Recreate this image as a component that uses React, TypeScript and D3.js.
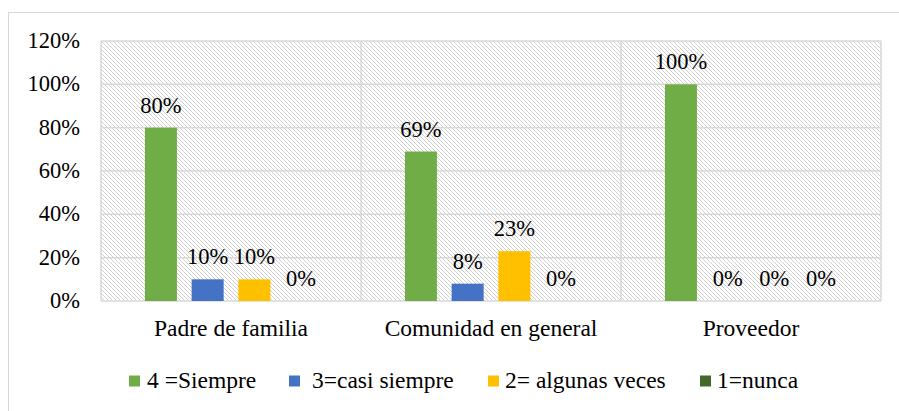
import { useEffect, useRef } from "react";
import * as d3 from "d3";

const categories = ["Padre de familia", "Comunidad en general", "Proveedor"];
const seriesNames = ["4 =Siempre", "3=casi siempre", "2= algunas veces", "1=nunca"];
const seriesColors = ["#70ad47", "#4472c4", "#ffc000", "#43682b"];
const siempre = [80, 69, 100];
const casiSiempre = [10, 8, 0];
const algunasVeces = [10, 23, 0];
const nunca = [0, 0, 0];
const yTicks = [0, 20, 40, 60, 80, 100, 120];

const FONT = "'Liberation Serif', 'Times New Roman', serif";

export default function App() {
  const svgRef = useRef<SVGSVGElement>(null);

  useEffect(() => {
    if (!svgRef.current) return;
    const root = d3.select(svgRef.current);
    root.selectAll("*").remove();

    const W = 899;
    const H = 411;
    root.attr("width", W).attr("height", H);

    const values = [siempre, casiSiempre, algunasVeces, nunca];

    // outer chart border
    root
      .append("rect")
      .attr("x", 8.5)
      .attr("y", 12.5)
      .attr("width", 960)
      .attr("height", 500)
      .attr("fill", "#fff")
      .attr("stroke", "#d9d9d9");

    const left = 101;
    const right = 881;
    const top = 41;
    const bottom = 301;

    // hatch pattern
    const defs = root.append("defs");
    const pat = defs
      .append("pattern")
      .attr("id", "hatch")
      .attr("patternUnits", "userSpaceOnUse")
      .attr("width", 4)
      .attr("height", 4);
    pat.append("rect").attr("width", 4).attr("height", 4).attr("fill", "#fff");
    pat
      .append("path")
      .attr("d", "M-1,-1 L5,5 M-1,3 L1,5 M3,-1 L5,1")
      .attr("stroke", "#d0d0d0")
      .attr("stroke-width", 1);

    const x0 = d3.scaleBand().domain(categories).range([left, right]).padding(0);
    const x1 = d3
      .scaleBand()
      .domain(seriesNames)
      .range([0, x0.bandwidth()])
      .paddingInner(0.315)
      .paddingOuter(0.94);
    const y = d3.scaleLinear().domain([0, 120]).range([bottom, top]);

    root
      .append("rect")
      .attr("x", left)
      .attr("y", top)
      .attr("width", right - left)
      .attr("height", bottom - top)
      .attr("fill", "url(#hatch)");

    // gridlines
    root
      .append("g")
      .selectAll("line")
      .data(yTicks)
      .join("line")
      .attr("x1", left)
      .attr("x2", right)
      .attr("y1", (d) => y(d))
      .attr("y2", (d) => y(d))
      .attr("stroke", "#d9d9d9")
      .attr("stroke-width", 1.5);

    // vertical category separators
    const seps = [left, ...categories.map((c) => (x0(c) as number) + x0.bandwidth())];
    root
      .append("g")
      .selectAll("line")
      .data(seps)
      .join("line")
      .attr("x1", (d) => d)
      .attr("x2", (d) => d)
      .attr("y1", top)
      .attr("y2", bottom)
      .attr("stroke", "#d9d9d9")
      .attr("stroke-width", 1.5);

    // y tick labels
    root
      .append("g")
      .selectAll("text")
      .data(yTicks)
      .join("text")
      .attr("x", 80)
      .attr("y", (d) => y(d) + 7)
      .attr("text-anchor", "end")
      .style("font-family", FONT)
      .style("font-size", "22.5px")
      .attr("fill", "#000")
      .text((d) => `${d}%`);

    // bars + labels
    seriesNames.forEach((s, si) => {
      const g = root.append("g");
      categories.forEach((c, ci) => {
        const v = values[si][ci];
        const bx = (x0(c) as number) + (x1(s) as number);
        if (v > 0) {
          g.append("rect")
            .attr("x", bx)
            .attr("y", y(v))
            .attr("width", x1.bandwidth())
            .attr("height", y(0) - y(v))
            .attr("fill", seriesColors[si]);
        }
        g.append("text")
          .attr("x", bx + x1.bandwidth() / 2)
          .attr("y", y(v) - 15)
          .attr("text-anchor", "middle")
          .style("font-family", FONT)
          .style("font-size", "22.5px")
          .attr("fill", "#000")
          .text(`${v}%`);
      });
    });

    // category labels
    root
      .append("g")
      .selectAll("text")
      .data(categories)
      .join("text")
      .attr("x", (c) => (x0(c) as number) + x0.bandwidth() / 2)
      .attr("y", 336)
      .attr("text-anchor", "middle")
      .style("font-family", FONT)
      .style("font-size", "23.5px")
      .attr("fill", "#000")
      .text((c) => c);

    // legend
    const legendX = [129, 289, 488, 700];
    const legendTextDx = [18, 23, 17, 17];
    const legend = root.append("g");
    seriesNames.forEach((s, i) => {
      const lg = legend.append("g").attr("transform", `translate(${legendX[i]},381)`);
      lg.append("rect")
        .attr("x", 0)
        .attr("y", -5.5)
        .attr("width", 11)
        .attr("height", 11)
        .attr("fill", seriesColors[i]);
      lg.append("text")
        .attr("x", legendTextDx[i])
        .attr("y", 7)
        .style("font-family", FONT)
        .style("font-size", "23.5px")
        .attr("fill", "#000")
        .text(s);
    });
  }, []);

  return (
    <div style={{ position: "absolute", left: 0, top: 0 }}>
      <svg ref={svgRef}></svg>
    </div>
  );
}
